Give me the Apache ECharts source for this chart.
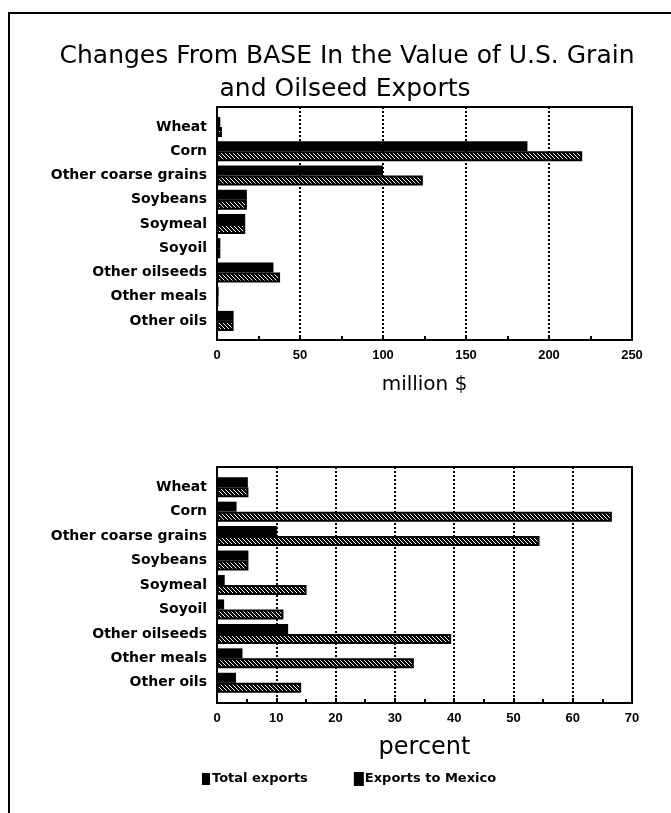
<!DOCTYPE html>
<html>
<head>
<meta charset="utf-8">
<script src="https://cdn.jsdelivr.net/npm/echarts@6/dist/echarts.min.js"></script>
<style>
  html, body { margin: 0; padding: 0; background: #fff; }
  #chart { width: 671px; height: 813px; }
</style>
</head>
<body>
<div id="chart"></div>
<script>
// categories, top to bottom
const categories = ['Wheat', 'Corn', 'Other coarse grains', 'Soybeans', 'Soymeal',
  'Soyoil', 'Other oilseeds', 'Other meals', 'Other oils']

// change in value, million $
const totalMillion = [2, 187, 100, 18, 17, 2, 34, 1, 10]
const mexicoMillion = [3, 220, 124, 18, 17, 2, 38, 0.5, 10]

// change in value, percent
const totalPercent = [5.2, 3.3, 10.1, 5.3, 1.3, 1.2, 12, 4.3, 3.2]
const mexicoPercent = [5.3, 66.6, 54.4, 5.3, 15.1, 11.2, 39.5, 33.2, 14.2]

const millionTicks = { min: 0, max: 250, interval: 50 }
const percentTicks = { min: 0, max: 70, interval: 10 }

const LBL = 'DejaVu Sans'

// black bar with white "\" stripes
function hatch() {
  const c = document.createElement('canvas')
  c.width = 4; c.height = 4
  const g = c.getContext('2d')
  g.fillStyle = '#000'
  g.fillRect(0, 0, 4, 4)
  g.fillStyle = '#fff'
  for (let i = 0; i < 4; i++) g.fillRect(i, i, 1, 1)
  return c
}

const chart = echarts.init(document.getElementById('chart'))

function frameAxis(gridIndex, ticks, name, nameSize, nameGap) {
  return {
    gridIndex, type: 'value', ...ticks,
    name, nameLocation: 'middle', nameGap,
    nameTextStyle: { color: '#000', fontFamily: LBL, fontSize: nameSize },
    axisLine: { show: true, lineStyle: { color: '#000', width: 2 } },
    axisTick: { show: true, inside: true, length: 5, lineStyle: { color: '#000', width: 2 } },
    minorTick: { show: true, splitNumber: 2, length: 4, lineStyle: { color: '#000', width: 2 } },
    axisLabel: { color: '#000', fontFamily: 'Liberation Sans', fontWeight: 'bold', fontSize: 13, margin: 9 },
    splitLine: { show: true, lineStyle: { color: '#000', width: 2, type: [2, 2] } }
  }
}

function dataAxis(gridIndex, ticks) {
  return { gridIndex, type: 'value', ...ticks, show: false, splitLine: { show: false } }
}

function catAxis(gridIndex) {
  return {
    gridIndex, type: 'category', data: categories, inverse: true,
    axisLine: { show: false }, axisTick: { show: false },
    axisLabel: { color: '#000', fontFamily: LBL, fontWeight: 'bold', fontSize: 14, margin: 10 }
  }
}

function bars(name, data, axisIndex, hatched) {
  return {
    name, type: 'bar', data,
    xAxisIndex: axisIndex, yAxisIndex: axisIndex,
    barWidth: 10, barGap: '0%',
    itemStyle: hatched
      ? { color: { image: hatch(), repeat: 'repeat' }, borderColor: '#000', borderWidth: 2 }
      : { color: '#000' },
    emphasis: { disabled: true }
  }
}

chart.setOption({
  animation: false,
  graphic: [
    { type: 'polyline', shape: { points: [[9, 813], [9, 13], [671, 13]] },
      style: { stroke: '#000', lineWidth: 2, fill: null } },
    { type: 'text', x: 347, y: 56,
      style: { text: 'Changes From BASE In the Value of U.S. Grain', align: 'center', verticalAlign: 'middle',
        font: '25px "DejaVu Sans"', fill: '#000' } },
    { type: 'text', x: 345, y: 89,
      style: { text: 'and Oilseed Exports', align: 'center', verticalAlign: 'middle',
        font: '25px "DejaVu Sans"', fill: '#000' } }
  ],
  legend: {
    data: [
      { name: 'Total exports', itemStyle: { color: '#000' } },
      { name: 'Exports to Mexico', itemStyle: { color: '#000' } }
    ],
    left: 197, top: 767, icon: 'rect', itemWidth: 8, itemHeight: 12, itemGap: 46,
    selectedMode: false,
    textStyle: { color: '#000', fontFamily: LBL, fontWeight: 'bold', fontSize: 13, padding: [0, 0, 0, -3] }
  },
  grid: [
    // frames
    { left: 217, right: 39, top: 107, height: 233, show: true, borderColor: '#000', borderWidth: 2 },
    { left: 217, right: 39, top: 467, height: 236, show: true, borderColor: '#000', borderWidth: 2 },
    // data areas (inset inside the frames)
    { left: 217, right: 39, top: 115, height: 218 },
    { left: 217, right: 39, top: 475, height: 220 }
  ],
  xAxis: [
    frameAxis(0, millionTicks, 'million $', 20, 35),
    frameAxis(1, percentTicks, 'percent', 24, 33),
    dataAxis(2, millionTicks),
    dataAxis(3, percentTicks)
  ],
  yAxis: [
    { gridIndex: 0, type: 'value', show: false, splitLine: { show: false } },
    { gridIndex: 1, type: 'value', show: false, splitLine: { show: false } },
    catAxis(2),
    catAxis(3)
  ],
  series: [
    bars('Total exports', totalMillion, 2, false),
    bars('Exports to Mexico', mexicoMillion, 2, true),
    bars('Total exports', totalPercent, 3, false),
    bars('Exports to Mexico', mexicoPercent, 3, true)
  ]
})
</script>
</body>
</html>
